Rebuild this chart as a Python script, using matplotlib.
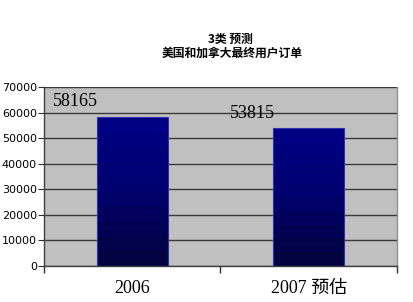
import numpy as np
import matplotlib
matplotlib.use("Agg")
import matplotlib.pyplot as plt
from matplotlib.colors import LinearSegmentedColormap

categories = ["2006", "2007 预估"]
values = [58165, 53815]
yticks = [0, 10000, 20000, 30000, 40000, 50000, 60000, 70000]
title_line1 = "3类 预测"
title_line2 = "美国和加拿大最终用户订单"

W, H, DPI = 414, 302, 100
fig = plt.figure(figsize=(W / DPI, H / DPI), dpi=DPI, facecolor="white")
ax = fig.add_axes([44 / W, (H - 266) / H, 353 / W, 179 / H])
ax.set_facecolor("#c0c0c0")

x = np.arange(len(categories)) + 0.5
width = 0.4

# banded navy gradient, dark at the base
cmap = LinearSegmentedColormap.from_list("navy", ["#03033f", "#000070", "#000088"])
n_bands = 60
grad = np.linspace(0, 1, n_bands).reshape(-1, 1)
grad = np.floor(grad * 10) / 10 + (np.arange(n_bands) % 3 == 0).reshape(-1, 1) * 0.06
grad = np.clip(grad, 0, 1)

bars = ax.bar(x, values, width=width, color="none", edgecolor="#3030a8",
              linewidth=0.8, zorder=3)
for bar, v in zip(bars, values):
    x0 = bar.get_x()
    im = ax.imshow(grad, extent=[x0, x0 + width, 0, v], origin="lower",
                   aspect="auto", cmap=cmap, vmin=0, vmax=1, zorder=2,
                   interpolation="nearest")
    im.set_clip_path(bar)

for bar, v in zip(bars, values):
    ax.annotate(f"{v}", xy=(bar.get_x(), v), xytext=(1, 11),
                textcoords="offset points", ha="right", va="center",
                fontsize=13, family="Liberation Serif", color="black")

ax.set_xlim(0, len(categories))
ax.set_ylim(0, 70000)
ax.set_yticks(yticks)
ax.set_yticklabels([str(t) for t in yticks], fontsize=8, family="DejaVu Sans")
ax.yaxis.grid(True, color="#3a3a3a", linewidth=1.0)
ax.set_axisbelow(True)
ax.tick_params(axis="y", direction="out", length=4, width=0.8, pad=1,
               color="#303030")

ax.set_xticks([0, 1, 2])
ax.set_xticklabels([])
ax.set_xticks(x, minor=True)
ax.set_xticklabels(categories, minor=True, fontsize=13,
                   family=["Liberation Serif", "Noto Sans CJK SC"])
ax.tick_params(axis="x", which="major", direction="out", length=5,
               width=1, color="#303030")
ax.tick_params(axis="x", which="minor", length=0, pad=10)

for side in ["left", "bottom"]:
    ax.spines[side].set_color("#404040")
    ax.spines[side].set_linewidth(1.0)
ax.spines["top"].set_visible(False)
ax.spines["right"].set_color("#909090")
ax.spines["right"].set_linewidth(1.0)

fig.text(230 / W, 1 - 39 / H, title_line1, ha="center", va="center",
         fontsize=8.5, fontweight="bold", family=["Noto Sans CJK SC", "DejaVu Sans"])
fig.text(232 / W, 1 - 53 / H, title_line2, ha="center", va="center",
         fontsize=8.5, fontweight="bold", family=["Noto Sans CJK SC", "DejaVu Sans"])

fig.savefig("out.png", dpi=DPI, facecolor="white")
